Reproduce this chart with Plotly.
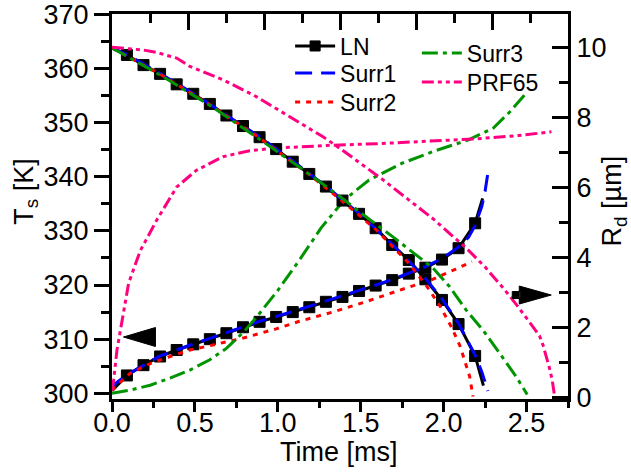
import plotly.graph_objects as go

# ---------------- data ----------------
# LN : surface temperature Ts [K] (left axis)
t_ln_T = [0.0, 0.09, 0.19, 0.29, 0.39, 0.49, 0.59, 0.69, 0.79, 0.89, 0.99, 1.09,
          1.19, 1.29, 1.39, 1.49, 1.59, 1.69, 1.79, 1.89, 1.99, 2.09, 2.19, 2.235]
T_ln = [300.5, 303.3, 305.2, 306.8, 308.0, 309.05, 310.0, 311.1, 312.2, 313.2, 314.1, 315.0,
        315.9, 316.9, 317.8, 318.9, 319.9, 320.9, 322.1, 323.2, 324.7, 326.8, 331.4, 336.0]
# LN : droplet radius Rd [um] (right axis)
t_ln_R = [0.0, 0.09, 0.19, 0.29, 0.39, 0.49, 0.59, 0.69, 0.79, 0.89, 0.99, 1.09,
          1.19, 1.29, 1.39, 1.49, 1.59, 1.69, 1.79, 1.89, 1.99, 2.09, 2.19, 2.24]
R_ln = [10.0, 9.80, 9.51, 9.26, 8.96, 8.69, 8.40, 8.07, 7.77, 7.45, 7.11, 6.75,
        6.40, 6.04, 5.64, 5.26, 4.85, 4.37, 3.94, 3.39, 2.80, 2.11, 1.20, 0.35]

# Surr1
t_s1_T = [0.0, 0.02, 0.09, 0.29, 0.49, 0.69, 0.89, 1.09, 1.29, 1.49, 1.69, 1.89,
          1.99, 2.09, 2.15, 2.19, 2.23, 2.25, 2.265]
T_s1 = [300.5, 301.8, 303.4, 306.9, 309.1, 311.2, 313.3, 315.1, 317.0, 319.0, 321.0, 323.4,
        324.9, 327.0, 328.8, 331.0, 334.5, 337.3, 340.3]
t_s1_R = [0.0, 0.09, 0.29, 0.49, 0.69, 0.89, 1.09, 1.29, 1.49, 1.69, 1.89, 1.99,
          2.09, 2.19, 2.23, 2.255, 2.267]
R_s1 = [10.0, 9.81, 9.27, 8.70, 8.08, 7.46, 6.77, 6.05, 5.27, 4.39, 3.42, 2.83,
        2.13, 1.22, 0.75, 0.40, 0.20]

# Surr2
t_s2_T = [0.0, 0.03, 0.11, 0.23, 0.35, 0.47, 0.59, 0.79, 0.99, 1.13, 1.33, 1.53,
          1.73, 1.93, 2.07, 2.17]
T_s2 = [300.5, 301.5, 303.7, 305.5, 306.8, 308.0, 308.8, 310.2, 311.9, 313.3, 315.0, 316.9,
        319.0, 321.0, 322.9, 324.3]
t_s2_R = [0.0, 0.29, 0.59, 0.89, 1.19, 1.39, 1.59, 1.79, 1.90, 1.98, 2.05, 2.10, 2.157, 2.177]
R_s2 = [10.0, 9.25, 8.38, 7.43, 6.38, 5.62, 4.82, 3.85, 3.18, 2.61, 2.00, 1.47, 0.61, 0.04]

# Surr3
t_s3_T = [0.0, 0.11, 0.23, 0.35, 0.47, 0.59, 0.69, 0.79, 0.87, 1.0, 1.13, 1.26,
          1.40, 1.55, 1.75, 1.95, 2.15, 2.30, 2.40, 2.50]
T_s3 = [300.0, 300.6, 301.5, 302.8, 304.3, 306.2, 308.3, 311.2, 314.0, 319.0, 324.6, 330.5,
        335.7, 339.4, 342.5, 344.8, 346.8, 349.0, 352.0, 355.5]
t_s3_R = [0.0, 0.3, 0.6, 0.9, 1.2, 1.39, 1.50, 1.70, 1.936, 2.036, 2.136, 2.237,
          2.337, 2.437, 2.504]
R_s3 = [10.0, 9.20, 8.33, 7.36, 6.36, 5.70, 5.29, 4.58, 3.71, 3.18, 2.51, 1.94,
        1.28, 0.61, 0.10]

# PRF65
t_p_T = [0.0, 0.01, 0.03, 0.07, 0.10, 0.17, 0.27, 0.39, 0.51, 0.67, 0.83, 0.99,
         1.15, 1.32, 1.60, 1.90, 2.20, 2.45, 2.65]
T_p = [300.5, 302.5, 308.0, 314.8, 320.3, 326.3, 332.0, 338.1, 341.2, 343.7, 344.8, 345.3,
       345.6, 345.8, 346.1, 346.5, 347.0, 347.6, 348.3]
t_p_R = [0.0, 0.09, 0.19, 0.27, 0.39, 0.47, 0.67, 0.87, 1.07, 1.27, 1.375, 1.635,
         1.936, 2.137, 2.25, 2.368, 2.45, 2.52, 2.578, 2.60, 2.62, 2.64, 2.655, 2.668]
R_p = [10.02, 9.99, 9.94, 9.87, 9.71, 9.47, 9.09, 8.61, 8.04, 7.47, 7.13, 6.23,
       5.12, 4.28, 3.74, 3.09, 2.60, 2.15, 1.78, 1.50, 1.18, 0.82, 0.50, 0.09]

x_ticks = [0.0, 0.5, 1.0, 1.5, 2.0, 2.5]
T_ticks = [300, 310, 320, 330, 340, 350, 360, 370]
R_ticks = [0, 2, 4, 6, 8, 10]

# ---------------- styles ----------------
FONT = "Liberation Sans, Arial, sans-serif"
BLUE = "#0000FF"
RED = "#FF0000"
GREEN = "#009400"
PINK = "#FF0080"
LW = 3
D_S1 = "17px,9px"
D_S2 = "5px,6px"
D_S3 = "16px,5px,4px,5px"
D_P = "12px,4px,4px,4px,4px,4px"


def msizes(n):
    return [0] + [11] * (n - 2) + [0]


def mk(n):
    return dict(symbol="square", size=msizes(n), color="black", opacity=1,
                line=dict(width=1, color="black"))


fig = go.Figure()

# LN
fig.add_trace(go.Scatter(x=t_ln_T, y=T_ln, mode="lines+markers", name="LN",
                         line=dict(color="black", width=LW), marker=mk(len(t_ln_T)),
                         legend="legend"))
fig.add_trace(go.Scatter(x=t_ln_R, y=R_ln, mode="lines+markers", name="LN", showlegend=False,
                         line=dict(color="black", width=LW), marker=mk(len(t_ln_R)),
                         yaxis="y2"))
# Surr1
fig.add_trace(go.Scatter(x=t_s1_T, y=T_s1, mode="lines", name="Surr1",
                         line=dict(color=BLUE, width=LW, dash=D_S1), legend="legend2"))
fig.add_trace(go.Scatter(x=t_s1_R, y=R_s1, mode="lines", name="Surr1", showlegend=False,
                         line=dict(color=BLUE, width=LW, dash=D_S1), yaxis="y2"))
# Surr2
fig.add_trace(go.Scatter(x=t_s2_T, y=T_s2, mode="lines", name="Surr2",
                         line=dict(color=RED, width=LW, dash=D_S2), legend="legend3"))
fig.add_trace(go.Scatter(x=t_s2_R, y=R_s2, mode="lines", name="Surr2", showlegend=False,
                         line=dict(color=RED, width=LW, dash=D_S2), yaxis="y2"))
# Surr3
fig.add_trace(go.Scatter(x=t_s3_T, y=T_s3, mode="lines", name="Surr3",
                         line=dict(color=GREEN, width=LW, dash=D_S3), legend="legend4"))
fig.add_trace(go.Scatter(x=t_s3_R, y=R_s3, mode="lines", name="Surr3", showlegend=False,
                         line=dict(color=GREEN, width=LW, dash=D_S3), yaxis="y2"))
# PRF65
fig.add_trace(go.Scatter(x=t_p_T, y=T_p, mode="lines", name="PRF65",
                         line=dict(color=PINK, width=LW, dash=D_P), legend="legend5"))
fig.add_trace(go.Scatter(x=t_p_R, y=R_p, mode="lines", name="PRF65", showlegend=False,
                         line=dict(color=PINK, width=LW, dash=D_P), yaxis="y2"))
# dummy trace to activate the top axis
fig.add_trace(go.Scatter(x=[None], y=[None], xaxis="x2", showlegend=False, hoverinfo="skip"))

axcommon = dict(showline=True, linecolor="black", linewidth=3, showgrid=False, zeroline=False,
                tickcolor="black", tickwidth=3, ticklabeloverflow="allow", automargin=False,
                tickfont=dict(family=FONT, size=27, color="black"))

# plot area in pixels: left 111.5, right 568.5, top 14, bottom 399
PL, PR, PT, PB = 111.5, 568.5, 14.0, 399.0


def px(xp):
    return (xp - PL) / (PR - PL)


def py(yp):
    return (PB - yp) / (PB - PT)


def leg(xl, yc):
    return dict(x=px(xl), y=py(yc), xanchor="left", yanchor="middle",
                bgcolor="rgba(0,0,0,0)", font=dict(family=FONT, size=23, color="black"),
                itemwidth=40, borderwidth=0)


fig.update_layout(
    width=631, height=475,
    margin=dict(l=PL, r=631 - PR, t=PT, b=475 - PB, autoexpand=False),
    paper_bgcolor="white", plot_bgcolor="white",
    font=dict(family=FONT, color="black"),
    xaxis=dict(range=[0, 2.75], tickvals=x_ticks, tickformat=".1f", ticks="outside", ticklen=10,
               ticklabelstandoff=-12,
               minor=dict(dtick=0.25, tick0=0, ticks="outside", ticklen=6, tickwidth=3, tickcolor="black"),
               anchor="y", **axcommon),
    xaxis2=dict(range=[0, 12], overlaying="x", side="top", anchor="y", dtick=2, tick0=0,
                ticks="inside", ticklen=16, showticklabels=False,
                minor=dict(dtick=1, tick0=0, ticks="inside", ticklen=9, tickwidth=3, tickcolor="black"),
                **axcommon),
    yaxis=dict(range=[298.95, 370.05], tickvals=T_ticks, ticks="outside", ticklen=15,
               minor=dict(dtick=5, tick0=300, ticks="outside", ticklen=8, tickwidth=3, tickcolor="black"),
               **axcommon),
    yaxis2=dict(range=[-0.03, 10.97], overlaying="y", side="right", anchor="x", tickvals=R_ticks,
                ticks="inside", ticklen=16,
                minor=dict(dtick=1, tick0=0, ticks="inside", ticklen=9, tickwidth=3, tickcolor="black"),
                **axcommon),
    legend=leg(290, 46),
    legend2=leg(290, 73),
    legend3=leg(290, 102),
    legend4=leg(417, 53),
    legend5=leg(417, 82),
    showlegend=True,
)

# axis titles
fig.add_annotation(text="Time [ms]", xref="paper", yref="paper", x=px(339), y=py(452),
                   xanchor="center", yanchor="middle",
                   showarrow=False, font=dict(family=FONT, size=27, color="black"))
fig.add_annotation(text="T<sub>s</sub> [K]", xref="paper", yref="paper", x=px(25), y=py(192),
                   xanchor="center", yanchor="middle",
                   textangle=-90, showarrow=False, font=dict(family=FONT, size=27, color="black"))
fig.add_annotation(text="R<sub>d</sub> [µm]", xref="paper", yref="paper", x=px(615), y=py(201),
                   xanchor="center", yanchor="middle",
                   textangle=-90, showarrow=False, font=dict(family=FONT, size=27, color="black"))

# direction arrows (left -> Ts axis, right -> Rd axis)
fig.add_shape(type="path", xref="x", yref="y", xsizemode="pixel", ysizemode="pixel",
              xanchor=0.069, yanchor=310.4, path="M0,0 L32,9.5 L32,-9.5 Z",
              fillcolor="black", line=dict(color="black", width=1))
fig.add_shape(type="path", xref="x", yref="y", xsizemode="pixel", ysizemode="pixel",
              xanchor=2.649, yanchor=318.15,
              path="M0,0 L-32,9 L-32,-9 Z M-31,-3.5 L-39,-3.5 L-39,3.5 L-31,3.5 Z",
              fillcolor="black", line=dict(color="black", width=1))

fig.write_html("out.html")
